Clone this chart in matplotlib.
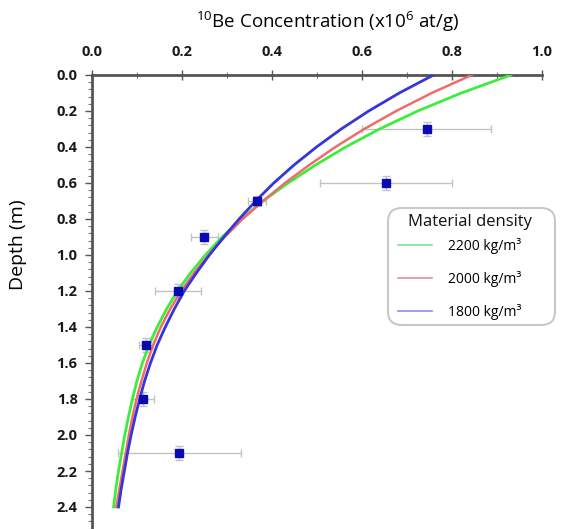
import numpy as np
import matplotlib
matplotlib.use("Agg")
import matplotlib.pyplot as plt
from matplotlib.ticker import MultipleLocator, FormatStrFormatter
from matplotlib.lines import Line2D
from matplotlib.patches import FancyBboxPatch

plt.rcParams['font.family'] = ['Open Sans', 'DejaVu Sans']
plt.rcParams['mathtext.default'] = 'regular'

# Model curves (depth in m, concentration in 1e6 at/g)
depth_curve = [0.0, 0.1, 0.2, 0.3, 0.4, 0.5, 0.6, 0.7, 0.8, 0.9, 1.0, 1.1, 1.2,
               1.3, 1.4, 1.5, 1.6, 1.7, 1.8, 1.9, 2.0, 2.1, 2.2, 2.3, 2.4]
conc_2200 = [0.932, 0.822, 0.725, 0.640, 0.565, 0.498, 0.437, 0.381, 0.333, 0.290,
             0.253, 0.220, 0.191, 0.167, 0.146, 0.128, 0.113, 0.101, 0.091, 0.082,
             0.074, 0.067, 0.060, 0.054, 0.049]
conc_2000 = [0.845, 0.756, 0.677, 0.606, 0.542, 0.484, 0.430, 0.381, 0.336, 0.296,
             0.260, 0.228, 0.199, 0.175, 0.154, 0.137, 0.123, 0.111, 0.100, 0.091,
             0.083, 0.076, 0.069, 0.062, 0.055]
conc_1800 = [0.760, 0.684, 0.616, 0.555, 0.500, 0.450, 0.405, 0.365, 0.328, 0.294,
             0.262, 0.233, 0.206, 0.184, 0.164, 0.146, 0.131, 0.118, 0.107, 0.097,
             0.088, 0.080, 0.073, 0.066, 0.060]

# Measured samples
sample_depth = [0.3, 0.6, 0.7, 0.9, 1.2, 1.5, 1.8, 2.1]
sample_conc = [0.745, 0.655, 0.368, 0.250, 0.192, 0.121, 0.115, 0.195]
sample_err = [0.143, 0.147, 0.020, 0.030, 0.052, 0.015, 0.024, 0.137]
depth_err = [0.04, 0.04, 0.03, 0.04, 0.04, 0.04, 0.04, 0.04]

legend_title = "Material density"
labels = ["2200 kg/m³", "2000 kg/m³", "1800 kg/m³"]

W, H = 566, 529
fig = plt.figure(figsize=(W/100, H/100), dpi=100)
ax = fig.add_axes([91.5/W, 0.0, 450/W, 1 - 75/H])

ax.plot(conc_2200, depth_curve, color='#3ded3d', lw=2.0, zorder=3)
ax.plot(conc_2000, depth_curve, color='#f06b6b', lw=1.8, zorder=3)
ax.plot(conc_1800, depth_curve, color='#3535d8', lw=2.0, zorder=3)

ax.errorbar(sample_conc, sample_depth, xerr=sample_err, yerr=depth_err,
            fmt='none', ecolor='#c2c2c2', elinewidth=1.0, capsize=3, capthick=1.0, zorder=2)
ax.plot(sample_conc, sample_depth, 's', color='#0a0ab4', markersize=6.2,
        markeredgecolor='#0a0ab4', zorder=4, linestyle='none')

ax.set_xlim(0, 1.0)
ax.set_ylim((H - 75) / 180.0, 0)

ax.xaxis.tick_top()
ax.xaxis.set_label_position('top')
ax.xaxis.set_major_locator(MultipleLocator(0.2))
ax.xaxis.set_minor_locator(MultipleLocator(0.1))
ax.yaxis.set_major_locator(MultipleLocator(0.2))
ax.yaxis.set_minor_locator(MultipleLocator(0.04))
ax.xaxis.set_major_formatter(FormatStrFormatter('%.1f'))
ax.yaxis.set_major_formatter(FormatStrFormatter('%.1f'))

for s in ['right', 'bottom']:
    ax.spines[s].set_visible(False)
for s in ['top', 'left']:
    ax.spines[s].set_color('#555555')
    ax.spines[s].set_linewidth(2.0)

ax.tick_params(axis='x', which='major', direction='inout', length=7, width=1.0,
               color='#555555', labelsize=10.5, pad=8)
ax.tick_params(axis='x', which='minor', direction='inout', length=4, width=0.8, color='#777777')
ax.tick_params(axis='y', which='major', direction='out', length=5, width=1.0,
               color='#555555', labelsize=10.5, pad=5)
ax.tick_params(axis='y', which='minor', direction='out', length=3, width=0.8, color='#777777')
for lab in ax.get_xticklabels() + ax.get_yticklabels():
    lab.set_fontweight('bold')
    lab.set_color('#1a1a1a')

ax.set_xlabel("$^{10}$Be Concentration (x10$^{6}$ at/g)", fontsize=13.5)
ax.xaxis.set_label_coords(0.525, 1.0 + (75 - 22)/454)
ax.xaxis.label.set_verticalalignment('center')
ax.set_ylabel("Depth (m)", fontsize=14)
ax.yaxis.set_label_coords(-73/450, 1 - (245 - 75)/454)
ax.yaxis.label.set_verticalalignment('center')

# legend box (rounded) drawn in figure pixels
box = FancyBboxPatch((388/W, 1 - 325/H), (555 - 388)/W, (325 - 208)/H,
                     boxstyle='round,pad=0,rounding_size=0.025',
                     transform=fig.transFigure, facecolor='white',
                     edgecolor='#c8c8c8', linewidth=1.5, zorder=5)
fig.add_artist(box)
fig.text(470/W, 1 - 222/H, legend_title, fontsize=12, ha='center', va='center',
         color='#111111', zorder=7)

handles = [Line2D([], [], color='#7fe59a', lw=1.2),
           Line2D([], [], color='#ef8a96', lw=1.2),
           Line2D([], [], color='#8f8fe0', lw=1.2)]
leg = fig.legend(handles, labels, loc='upper left',
                 bbox_to_anchor=(394/W, 1 - 234/H), frameon=False,
                 fontsize=10, labelspacing=1.2, handlelength=2.4,
                 handletextpad=1.2, borderpad=0.3, borderaxespad=0)
leg.set_zorder(6)

fig.savefig('out.png', dpi=100)
